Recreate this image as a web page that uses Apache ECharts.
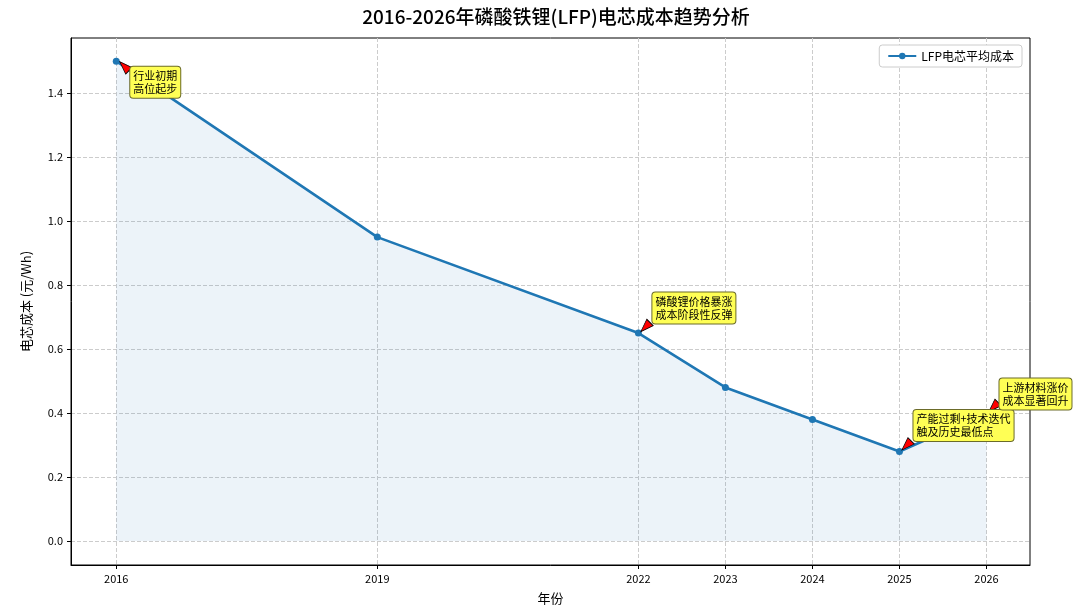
<!DOCTYPE html>
<html>
<head>
<meta charset="utf-8">
<script src="https://cdn.jsdelivr.net/npm/echarts@6/dist/echarts.min.js"></script>
<style>
  html, body { margin: 0; padding: 0; background: #fff; }
  #main { width: 1080px; height: 615px; }
</style>
</head>
<body>
<div id="main"></div>
<script>
// 数据
var years = [2016, 2019, 2022, 2023, 2024, 2025, 2026];
var costs = [1.50, 0.95, 0.65, 0.48, 0.38, 0.28, 0.40];
var yTicks = [0, 0.2, 0.4, 0.6, 0.8, 1.0, 1.2, 1.4];
var noteYears = [2016, 2022, 2025, 2026];
var noteTexts = ['行业初期\n高位起步', '磷酸锂价格暴涨\n成本阶段性反弹', '产能过剩+技术迭代\n触及历史最低点', '上游材料涨价\n成本显著回升'];

var font = '"Noto Sans CJK SC", "DejaVu Sans", sans-serif';

// 标注框位置和箭头方向
var labelOffsets = [[14, 21], [14, -25], [14, -26], [13, -19]];
var arrowRotate = [45, 135, 135, 135];
var arrowOffset = [[8, 5], [7, -6], [7, -6], [7, -6]];

function costOf(y) { return costs[years.indexOf(y)]; }

var labelPoints = noteYears.map(function (y, i) {
    return {
        coord: [y, costOf(y)],
        symbol: 'circle',
        symbolSize: 1,
        itemStyle: { color: 'rgba(0,0,0,0)' },
        label: {
            show: true,
            position: 'inside',
            offset: labelOffsets[i],
            align: 'left',
            verticalAlign: 'middle',
            formatter: noteTexts[i],
            color: '#000',
            fontSize: 11,
            lineHeight: 13,
            fontFamily: font,
            backgroundColor: '#ffff55',
            borderColor: '#6b6b2a',
            borderWidth: 1,
            borderRadius: 3,
            padding: [3, 3, 2, 3]
        }
    };
});

var arrowPoints = noteYears.map(function (y, i) {
    return {
        coord: [y, costOf(y)],
        symbol: 'triangle',
        symbolSize: [9, 13],
        symbolRotate: arrowRotate[i],
        symbolOffset: arrowOffset[i],
        itemStyle: { color: '#ff0000', borderColor: '#000', borderWidth: 0.8 },
        label: { show: false }
    };
});

var myChart = echarts.init(document.getElementById('main'));

var option = {
    animation: false,
    title: {
        text: '2016-2026年磷酸铁锂(LFP)电芯成本趋势分析',
        left: 551,
        textAlign: 'center',
        top: 2,
        textStyle: { fontSize: 19, fontWeight: 500, color: '#000', fontFamily: font }
    },
    legend: {
        right: 58,
        top: 45,
        data: ['LFP电芯平均成本'],
        backgroundColor: '#fff',
        borderColor: '#ccc',
        borderWidth: 1,
        borderRadius: 3,
        padding: [5, 8],
        itemWidth: 28,
        itemHeight: 8,
        textStyle: { fontSize: 12, fontFamily: font, color: '#000' }
    },
    grid: {
        left: 71, right: 50, top: 38, bottom: 50,
        show: true, borderColor: '#000', borderWidth: 1,
        containLabel: false
    },
    xAxis: {
        type: 'value',
        min: 2015.48,
        max: 2026.5,
        name: '年份',
        nameLocation: 'middle',
        nameGap: 27,
        nameTextStyle: { fontSize: 13, fontFamily: font, color: '#000' },
        axisLine: { show: true, onZero: false, lineStyle: { color: '#000' } },
        axisTick: { show: true, customValues: years, length: 4, lineStyle: { color: '#000' } },
        axisLabel: {
            customValues: years,
            fontSize: 11, color: '#000', fontFamily: font, margin: 8,
            formatter: function (v) { return String(v); }
        },
        splitLine: { show: true, lineStyle: { type: 'dashed', color: '#ccc' } }
    },
    yAxis: {
        type: 'value',
        min: -0.075,
        max: 1.5725,
        name: '电芯成本 (元/Wh)',
        nameLocation: 'middle',
        nameGap: 38,
        nameTextStyle: { fontSize: 13, fontFamily: font, color: '#000' },
        axisLine: { show: true, lineStyle: { color: '#000' } },
        axisTick: { show: true, customValues: yTicks, length: 4, lineStyle: { color: '#000' } },
        axisLabel: {
            customValues: yTicks,
            fontSize: 11, color: '#000', fontFamily: font, margin: 8,
            formatter: function (v) { return v.toFixed(1); }
        },
        splitLine: { show: true, lineStyle: { type: 'dashed', color: '#ccc' } }
    },
    series: [{
        name: 'LFP电芯平均成本',
        type: 'line',
        data: years.map(function (y, i) { return [y, costs[i]]; }),
        symbol: 'circle',
        symbolSize: 7,
        lineStyle: { width: 2.6, color: '#1f77b4' },
        itemStyle: { color: '#1f77b4' },
        areaStyle: { color: 'rgba(31,119,180,0.12)', origin: 0 },
        z: 3,
        markPoint: { data: arrowPoints, z: 5 }
    }, {
        name: 'notes',
        type: 'line',
        data: [],
        z: 6,
        markPoint: { data: labelPoints, z: 6 }
    }]
};

myChart.setOption(option);
</script>
</body>
</html>
